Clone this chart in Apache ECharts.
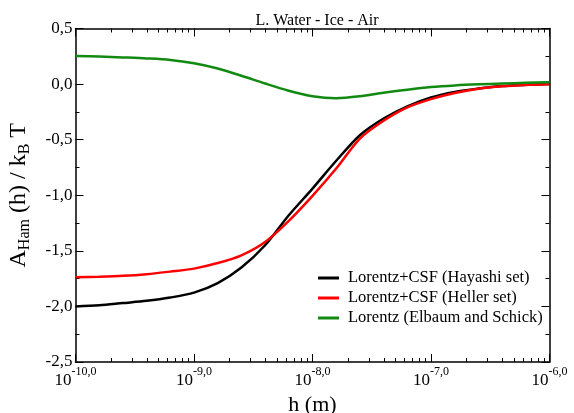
<!DOCTYPE html>
<html><head><meta charset="utf-8">
<script src="https://cdn.jsdelivr.net/npm/echarts@6/dist/echarts.min.js"></script>
<style>html,body{margin:0;padding:0;background:#fff}#c{width:574px;height:413px}</style>
</head><body><div id="c"></div>
<script>
const chartTitle = 'L. Water - Ice - Air';
const seriesNames = ['Lorentz+CSF (Hayashi set)', 'Lorentz+CSF (Heller set)', 'Lorentz (Elbaum and Schick)'];
// x values as log10(h / m)
const logH = [-10, -9.8, -9.6, -9.4, -9.2, -9, -8.8, -8.6, -8.4, -8.2, -8, -7.8, -7.6, -7.4, -7.2, -7, -6.8, -6.6, -6.4, -6.2, -6];
const hayashi = [-2.00, -1.99, -1.97, -1.95, -1.92, -1.876, -1.79, -1.65, -1.45, -1.18, -0.94, -0.69, -0.46, -0.31, -0.20, -0.12, -0.07, -0.04, -0.018, -0.007, 0.0];
const heller = [-1.738, -1.733, -1.725, -1.71, -1.687, -1.66, -1.61, -1.54, -1.42, -1.23, -1.005, -0.76, -0.49, -0.33, -0.21, -0.135, -0.08, -0.042, -0.02, -0.008, -0.002];
const elbaum = [0.253, 0.248, 0.24, 0.231, 0.217, 0.187, 0.14, 0.075, 0.005, -0.06, -0.11, -0.128, -0.11, -0.077, -0.05, -0.027, -0.012, -0.002, 0.005, 0.011, 0.016];
const xMajorExponents = [-10, -9, -8, -7, -6];
const xMinorMultipliers = [2, 3, 4, 5, 6, 7, 8, 9];
const yMin = -2.5, yMax = 0.5, yStep = 0.5;
const colors = ['#000000', '#ff0000', '#128a12'];

const FONT = '"Liberation Serif", "Times New Roman", serif';
const minorVals = [];
xMajorExponents.slice(0, -1).forEach(e => xMinorMultipliers.forEach(m => minorVals.push(e + Math.log10(m))));

const frameLine = { show: true, onZero: false, lineStyle: { color: '#000', width: 1.5 } };
function xAx(pos, major) {
  return {
    type: 'value', min: xMajorExponents[0], max: xMajorExponents[xMajorExponents.length - 1], interval: 1,
    position: pos,
    axisLine: major ? frameLine : { show: false, onZero: false },
    splitLine: { show: false },
    axisTick: major
      ? { show: true, inside: true, length: 8, lineStyle: { color: '#000', width: 1 } }
      : { show: true, inside: true, length: 4, customValues: minorVals, lineStyle: { color: '#000', width: 1 } },
    axisLabel: (major && pos === 'bottom') ? {
      show: true, margin: 6,
      formatter: v => '{b|10}{s|' + v.toFixed(1).replace('.', ',') + '}',
      rich: {
        b: { fontFamily: FONT, fontSize: 17, color: '#000', lineHeight: 17, padding: [8, 0, 0, 0] },
        s: { fontFamily: FONT, fontSize: 12, color: '#000', lineHeight: 12, padding: [0, 0, 10, 0] }
      }
    } : { show: false },
    name: (major && pos === 'bottom') ? 'h (m)' : '',
    nameLocation: 'middle', nameGap: 28,
    nameTextStyle: { fontFamily: FONT, fontSize: 22, color: '#000' }
  };
}
function yAx(pos) {
  const left = pos === 'left';
  return {
    type: 'value', min: yMin, max: yMax, interval: yStep, position: pos,
    axisLine: frameLine,
    splitLine: { show: false },
    axisTick: { show: true, inside: true, length: 8, lineStyle: { color: '#000', width: 1 } },
    minorTick: { show: true, splitNumber: 2, length: 4, lineStyle: { color: '#000', width: 1 } },
    axisLabel: left ? {
      show: true, margin: 3, fontFamily: FONT, fontSize: 17, color: '#000',
      formatter: v => v.toFixed(1).replace('.', ',')
    } : { show: false },
    name: left ? '{a|A}{sub|Ham}{a| (h) / k}{sub|B}{a| T}' : '',
    nameLocation: 'middle', nameGap: 38, nameRotate: 90,
    nameTextStyle: {
      rich: {
        a: { fontFamily: FONT, fontSize: 24, color: '#000', lineHeight: 25, padding: [0, 0, 4, 0] },
        sub: { fontFamily: FONT, fontSize: 16, color: '#000', lineHeight: 16, padding: [9, 0, 0, 0] }
      }
    }
  };
}

const chart = echarts.init(document.getElementById('c'), null, { renderer: 'canvas' });
chart.setOption({
  animation: false,
  backgroundColor: '#fff',
  title: {
    text: chartTitle, left: 312, top: 8, textAlign: 'center',
    textStyle: { fontFamily: FONT, fontSize: 16, fontWeight: 'normal', color: '#000' }
  },
  grid: { left: 75.5, right: 24.5, top: 28.5, bottom: 51, containLabel: false, outerBoundsMode: 'none' },
  xAxis: [xAx('bottom', true), xAx('bottom', false), xAx('top', true), xAx('top', false)],
  yAxis: [yAx('left'), yAx('right')],
  legend: {
    orient: 'vertical', left: 318, top: 268, padding: 0, itemWidth: 21, itemHeight: 3, itemGap: 0,
    icon: 'rect',
    textStyle: { fontFamily: FONT, fontSize: 16.5, color: '#000', lineHeight: 20, padding: [0, 0, 0, 4] },
    data: seriesNames
  },
  series: [hayashi, heller, elbaum].map((arr, i) => ({
    name: seriesNames[i], type: 'line', xAxisIndex: 0, yAxisIndex: 0,
    data: logH.map((x, j) => [x, arr[j]]),
    showSymbol: false, symbol: 'none', smooth: 0.3,
    lineStyle: { color: colors[i], width: 2.5 }, itemStyle: { color: colors[i] }
  }))
});
</script></body></html>
